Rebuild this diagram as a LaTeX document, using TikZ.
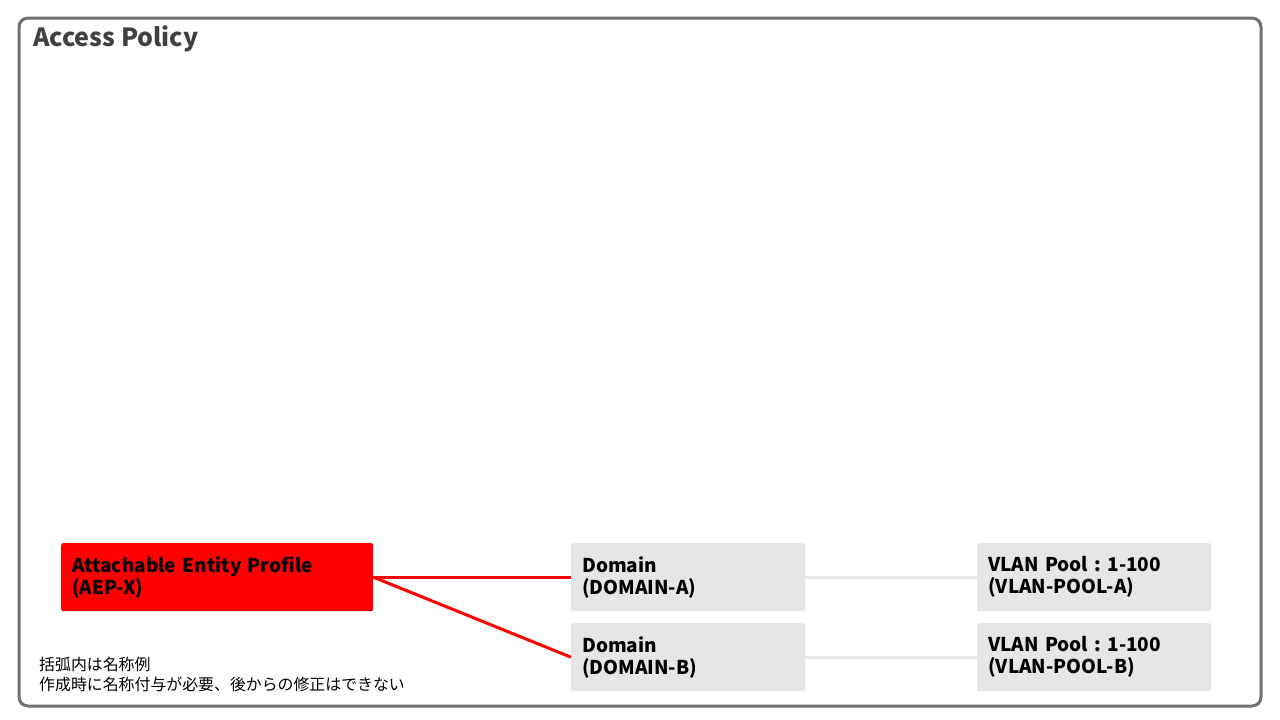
\documentclass[tikz,border=0pt]{standalone}
\usepackage{fontspec}
\setmainfont{Noto Sans CJK JP}
\usetikzlibrary{positioning}

\definecolor{framegray}{HTML}{707070}
\definecolor{titlegray}{HTML}{404040}
\definecolor{boxgray}{HTML}{E6E6E6}
\definecolor{aepred}{HTML}{FF0000}

\begin{document}
\frenchspacing
\begin{tikzpicture}[x=1pt, y=-1pt,
    box/.style={rectangle, rounded corners=2pt, anchor=north west,
      minimum width=#1, minimum height=68pt, text width=#1-22pt,
      inner xsep=11pt, inner ysep=0pt, align=left,
      font=\bfseries\fontsize{19}{22}\selectfont},
    redbox/.style={box=312pt, fill=aepred},
    graybox/.style={box=234pt, fill=boxgray},
    redlink/.style={draw=aepred, line width=3pt},
    graylink/.style={draw=boxgray, line width=3pt}]
  %Access Policy, AEP - Domain - VLAN Pool
    \useasboundingbox (0,0) rectangle (1280,720);
    \draw[framegray, line width=3pt, rounded corners=9pt] (19,18) rectangle (1261,706);
    \node[anchor=base west, inner sep=0pt, text=titlegray, font=\bfseries\fontsize{25}{28}\selectfont] (title) at (33,46) {Access Policy};
    \node[redbox] (aep) at (61,543) {Attachable Entity Profile\\(AEP-X)};
    \node[graybox] (domA) at (571,543) {Domain\\(DOMAIN-A)};
    \node[graybox] (domB) at (571,623) {Domain\\(DOMAIN-B)};
    \node[graybox] (vlanA) at (977,543) {VLAN Pool : 1-100\\(VLAN-POOL-A)};
    \node[graybox] (vlanB) at (977,623) {VLAN Pool : 1-100\\(VLAN-POOL-B)};
    \draw[redlink] (aep.east) -- (domA.west);
    \draw[redlink] (aep.east) -- (domB.west);
    \draw[graylink] (domA.east) -- (vlanA.west);
    \draw[graylink] (domB.east) -- (vlanB.west);
    \node[anchor=base west, inner sep=0pt, align=left, font=\fontsize{15.9}{19.5}\selectfont] (note) at (39,690) {括弧内は名称例\\作成時に名称付与が必要、後からの修正はできない};
\end{tikzpicture}
\end{document}
